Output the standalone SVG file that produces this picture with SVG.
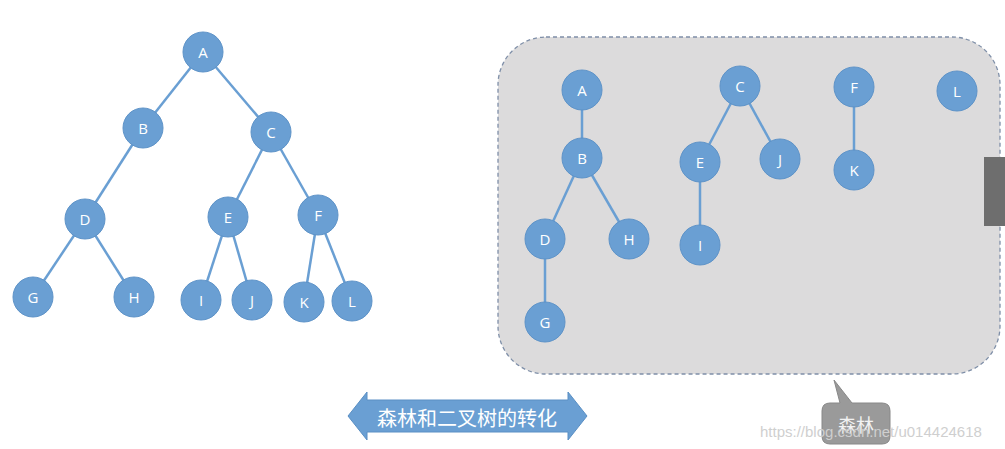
<svg xmlns="http://www.w3.org/2000/svg" width="1005" height="449" viewBox="0 0 1005 449">
<style>
.n circle{fill:#6a9fd3;stroke:#5e93c8;stroke-width:1}
.n text{fill:#fff;font-family:"Open Sans","Liberation Sans",sans-serif;font-size:15px;text-anchor:middle;dominant-baseline:central}
#edges line{stroke:#6a9fd3;stroke-width:2.5}
</style>
<rect width="1005" height="449" fill="#fff"/>
<rect x="498" y="37" width="502" height="337" rx="48" fill="#dcdbdc" stroke="#7f8fa8" stroke-width="1.3" stroke-dasharray="4 3"/>
<rect x="984" y="157" width="21" height="69" fill="#6e6e6e"/>
<g id="edges">
<line x1="203" y1="52" x2="143" y2="128"/><line x1="203" y1="52" x2="271" y2="132"/>
<line x1="143" y1="128" x2="85" y2="219"/><line x1="85" y1="219" x2="33" y2="297"/><line x1="85" y1="219" x2="134" y2="297"/>
<line x1="271" y1="132" x2="228" y2="217"/><line x1="271" y1="132" x2="318" y2="215"/>
<line x1="228" y1="217" x2="201" y2="300"/><line x1="228" y1="217" x2="252" y2="300"/>
<line x1="318" y1="215" x2="304" y2="302"/><line x1="318" y1="215" x2="352" y2="301"/>
<line x1="582" y1="90" x2="582" y2="158"/><line x1="582" y1="158" x2="545" y2="239"/><line x1="582" y1="158" x2="629" y2="239"/><line x1="545" y1="239" x2="545" y2="322"/>
<line x1="740" y1="86" x2="700" y2="162"/><line x1="740" y1="86" x2="780" y2="159"/><line x1="700" y1="162" x2="700" y2="245"/>
<line x1="854" y1="87" x2="854" y2="170"/>
</g>
<g id="nA" class="n"><circle cx="203" cy="52" r="20"/><text x="203" y="52">A</text></g>
<g id="nB" class="n"><circle cx="143" cy="128" r="20"/><text x="143" y="128">B</text></g>
<g id="nC" class="n"><circle cx="271" cy="132" r="20"/><text x="271" y="132">C</text></g>
<g id="nD" class="n"><circle cx="85" cy="219" r="20"/><text x="85" y="219">D</text></g>
<g id="nE" class="n"><circle cx="228" cy="217" r="20"/><text x="228" y="217">E</text></g>
<g id="nF" class="n"><circle cx="318" cy="215" r="20"/><text x="318" y="215">F</text></g>
<g id="nG" class="n"><circle cx="33" cy="297" r="20"/><text x="33" y="297">G</text></g>
<g id="nH" class="n"><circle cx="134" cy="297" r="20"/><text x="134" y="297">H</text></g>
<g id="nI" class="n"><circle cx="201" cy="300" r="20"/><text x="201" y="300">I</text></g>
<g id="nJ" class="n"><circle cx="252" cy="300" r="20"/><text x="252" y="300">J</text></g>
<g id="nK" class="n"><circle cx="304" cy="302" r="20"/><text x="304" y="302">K</text></g>
<g id="nL" class="n"><circle cx="352" cy="301" r="20"/><text x="352" y="301">L</text></g>
<g id="rA" class="n"><circle cx="582" cy="90" r="20"/><text x="582" y="90">A</text></g>
<g id="rB" class="n"><circle cx="582" cy="158" r="20"/><text x="582" y="158">B</text></g>
<g id="rD" class="n"><circle cx="545" cy="239" r="20"/><text x="545" y="239">D</text></g>
<g id="rH" class="n"><circle cx="629" cy="239" r="20"/><text x="629" y="239">H</text></g>
<g id="rG" class="n"><circle cx="545" cy="322" r="20"/><text x="545" y="322">G</text></g>
<g id="rC" class="n"><circle cx="740" cy="86" r="20"/><text x="740" y="86">C</text></g>
<g id="rE" class="n"><circle cx="700" cy="162" r="20"/><text x="700" y="162">E</text></g>
<g id="rJ" class="n"><circle cx="780" cy="159" r="20"/><text x="780" y="159">J</text></g>
<g id="rI" class="n"><circle cx="700" cy="245" r="20"/><text x="700" y="245">I</text></g>
<g id="rF" class="n"><circle cx="854" cy="87" r="20"/><text x="854" y="87">F</text></g>
<g id="rK" class="n"><circle cx="854" cy="170" r="20"/><text x="854" y="170">K</text></g>
<g id="rL" class="n"><circle cx="957" cy="91" r="20"/><text x="957" y="91">L</text></g>
<g id="arrow">
<polygon points="348,416 367,392 367,400 568,400 568,392 587,416 568,440 568,432 367,432 367,440" fill="#6a9fd3" stroke="#5a8fc4"/>
<text x="467" y="417" fill="#fff" font-family="'Noto Sans CJK SC',sans-serif" font-size="20" text-anchor="middle" dominant-baseline="central">森林和二叉树的转化</text>
</g>
<g id="callout">
<path d="M830,403 L840,403 L834,380 L852,403 L882,403 Q890,403 890,411 L890,436 Q890,444 882,444 L830,444 Q822,444 822,436 L822,411 Q822,403 830,403 Z" fill="#9a9a9a" stroke="#888"/>
<text x="856" y="424" fill="#f2f2f2" font-family="'Noto Sans CJK SC',sans-serif" font-size="18" text-anchor="middle" dominant-baseline="central">森林</text>
</g>
<text x="760" y="437" fill="#cfcfcf" font-family="'Liberation Sans',sans-serif" font-size="15">https://blog.csdn.net/u014424618</text>
</svg>
